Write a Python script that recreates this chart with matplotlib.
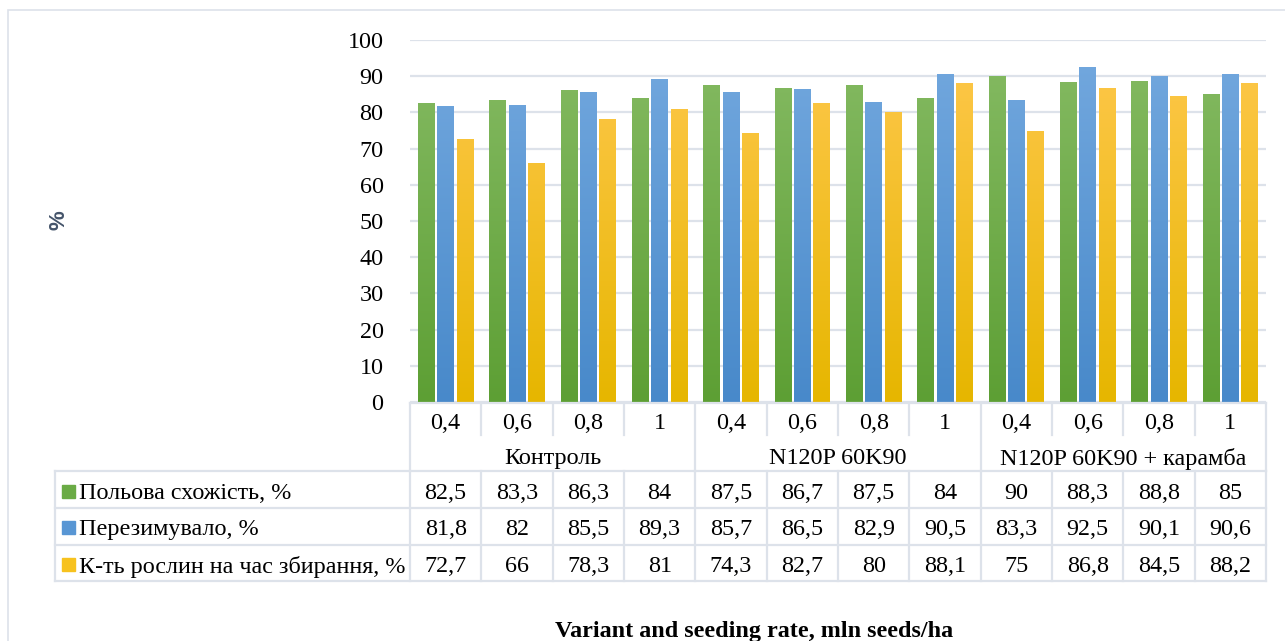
import numpy as np
import matplotlib
matplotlib.use("Agg")
import matplotlib.pyplot as plt
from matplotlib.colors import LinearSegmentedColormap
from matplotlib.patches import Rectangle

rates = ['0,4', '0,6', '0,8', '1'] * 3
groups = ['Контроль', 'N120P 60K90', 'N120P 60K90 + карамба']
series_names = ['Польова схожість, %', 'Перезимувало, %', 'К-ть рослин на час збирання, %']
emergence = [82.5, 83.3, 86.3, 84, 87.5, 86.7, 87.5, 84, 90, 88.3, 88.8, 85]
overwintered = [81.8, 82, 85.5, 89.3, 85.7, 86.5, 82.9, 90.5, 83.3, 92.5, 90.1, 90.6]
at_harvest = [72.7, 66, 78.3, 81, 74.3, 82.7, 80, 88.1, 75, 86.8, 84.5, 88.2]
series = [emergence, overwintered, at_harvest]

# top / bottom colours of each bar gradient
grad = [('#86bb64', '#5d9f34'), ('#74a9df', '#4889ca'), ('#ffc84e', '#e6b600')]
legend_colors = ['#6aab45', '#5896d4', '#f7c21e']
grid_c = '#dde2ea'

W, H = 1285, 641
fig = plt.figure(figsize=(W / 100, H / 100), dpi=100)
plt.rcParams['font.family'] = ['Liberation Serif', 'DejaVu Serif']
FS = 17.4

def fy(y):
    return 1 - y / H

def fx(x):
    return x / W

# chart frame
fig.patches.append(Rectangle((fx(8), fy(700)), 1.2, fy(10) - fy(700), transform=fig.transFigure,
                             fill=False, edgecolor=grid_c, lw=1.2))

ax_l, ax_r, ax_t, ax_b = 410, 1266, 40, 402
ax = fig.add_axes([fx(ax_l), fy(ax_b), fx(ax_r) - fx(ax_l), fy(ax_t) - fy(ax_b)])
n = len(rates)
x = np.arange(n)
bw = 0.235
step = 0.27

for k, vals in enumerate(series):
    cmap = LinearSegmentedColormap.from_list('g%d' % k, [grad[k][1], grad[k][0]])
    bars = ax.bar(x + (k - 1) * step, vals, width=bw, color=grad[k][0], zorder=2)
    for b in bars:
        img = ax.imshow(np.linspace(0, 1, 256).reshape(-1, 1), cmap=cmap, aspect='auto',
                        origin='lower', extent=[b.get_x(), b.get_x() + bw, 0, 100], zorder=3)
        img.set_clip_path(b)

ax.set_xlim(-0.5, n - 0.5)
ax.set_ylim(0, 100)
ax.set_yticks(np.arange(0, 101, 10))
ax.tick_params(axis='y', length=0, pad=19, labelsize=FS)
ax.set_xticks([])
ax.yaxis.grid(True, color=grid_c, lw=1.6, zorder=0)
for s in ax.spines.values():
    s.set_visible(False)

# data table below the plot
def col_x(i):
    return fx(ax_l) + (fx(ax_r) - fx(ax_l)) * (i + 0.5) / n

def hline(x0, x1, y):
    fig.add_artist(plt.Line2D([x0, x1], [fy(y), fy(y)], transform=fig.transFigure, color=grid_c, lw=1.6))

def vline(xf, y0, y1):
    fig.add_artist(plt.Line2D([xf, xf], [fy(y0), fy(y1)], transform=fig.transFigure, color=grid_c, lw=1.6))

rows = [403, 437, 471, 508, 545, 581]
tbl_left = 55
hline(fx(ax_l), fx(ax_r), rows[0])
for y in rows[2:]:
    hline(fx(tbl_left), fx(ax_r), y)

for i in range(n + 1):
    xb = col_x(i - 0.5)
    if i % 4 == 0:
        vline(xb, rows[0], rows[2])
    else:
        vline(xb, rows[0], rows[1] - 2)
    vline(xb, rows[2], rows[5])
vline(fx(tbl_left), rows[2], rows[5])

def cell(xf, y, s, ha='center'):
    fig.text(xf, fy(y), s, ha=ha, va='center_baseline', fontsize=FS)

for i, r in enumerate(rates):
    cell(col_x(i), 421, r)
for g, name in enumerate(groups):
    cell(col_x(4 * g + 1.5), 456, name)

row_mid = [491, 527, 564]
for k, vals in enumerate(series):
    for i, v in enumerate(vals):
        cell(col_x(i), row_mid[k], ('%g' % v).replace('.', ','))
    fig.patches.append(Rectangle((fx(62), fy(row_mid[k] + 6.5)), fx(13), 13 / H, transform=fig.transFigure,
                                 color=legend_colors[k]))
    cell(fx(79), row_mid[k], series_names[k], ha='left')

fig.text(fx(59), fy(220), '%', rotation=90, ha='center', va='center', fontsize=16,
         fontweight='bold', color='#44546a', family=['Liberation Sans', 'DejaVu Sans'])
fig.text(fx(754), fy(637), 'Variant and seeding rate, mln seeds/ha', ha='center', va='baseline',
         fontsize=FS, fontweight='bold')

fig.savefig('out.png', dpi=100)
